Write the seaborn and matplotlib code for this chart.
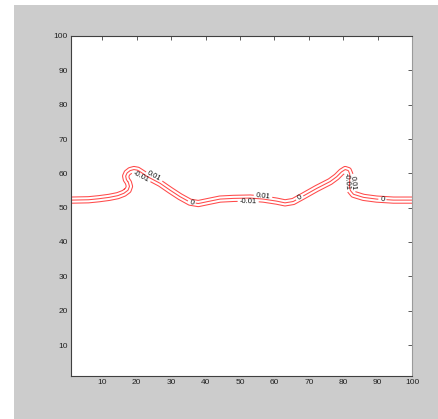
import numpy as np
import matplotlib
matplotlib.use("Agg")
import matplotlib.pyplot as plt
from matplotlib.path import Path
from matplotlib.patches import Rectangle
import seaborn as sns

# Zero level of the interface (x, y) traced along the front
front_x = [1, 6, 9, 12, 14.5, 16.3, 17.5, 17.9, 17.6, 17.0, 16.8, 17.2, 18.1,
           19.2, 20.3, 21.4, 23.2, 26.8, 29.7, 32.6, 35.5, 37.9, 40.3, 44.2,
           48.1, 53.0, 56.8, 60.7, 63.1, 65.5, 68.4, 72.3, 76.2, 78.1, 79.5,
           80.6, 81.5, 81.9, 81.9, 81.8, 82.1, 83.0, 85.9, 89.7, 94.6, 100]
front_y = [52.2, 52.3, 52.6, 53.0, 53.5, 54.2, 55.1, 56.2, 57.3, 58.2, 59.2,
           60.1, 60.8, 61.1, 60.9, 60.2, 59.0, 57.1, 55.1, 53.2, 51.6, 51.2,
           51.7, 52.5, 52.7, 52.8, 52.5, 51.9, 51.4, 51.8, 53.4, 55.6, 57.6,
           59.0, 60.4, 61.1, 60.8, 59.8, 58.0, 56.2, 55.0, 53.9, 53.0, 52.5,
           52.2, 52.2]

# contour levels of the level-set function and their printed labels
levels = [-0.01, 0.0, 0.01]
level_text = ["-0.01", "0", "0.01"]
level_step = 0.9          # distance (grid units) between neighbouring levels

# inline labels: level and approximate position
label_level = [-0.01, 0.01, 0.0, -0.01, 0.01, 0.0, -0.01, 0.01, 0.0]
label_x = [21.0, 25.0, 36.0, 52.4, 56.7, 67.6, 80.6, 83.3, 91.4]
label_y = [58.6, 58.9, 51.6, 51.7, 53.2, 52.4, 57.6, 57.1, 52.4]

xticks = list(range(10, 101, 10))
yticks = list(range(10, 101, 10))

# ---- level-set field: signed distance to the front ----
fx = np.asarray(front_x, float)
fy = np.asarray(front_y, float)
px = np.concatenate([[fx[0] - 10], fx, [fx[-1] + 10]])
py = np.concatenate([[fy[0]], fy, [fy[-1]]])

gx, gy = np.meshgrid(np.linspace(1, 100, 496), np.linspace(1, 100, 496))
pts = np.column_stack([gx.ravel(), gy.ravel()])

dist = np.full(len(pts), np.inf)
for i in range(len(px) - 1):
    a = np.array([px[i], py[i]])
    b = np.array([px[i + 1], py[i + 1]])
    ab = b - a
    t = np.clip(((pts - a) @ ab) / (ab @ ab), 0.0, 1.0)
    proj = a + t[:, None] * ab
    dist = np.minimum(dist, np.hypot(*(pts - proj).T))

below = Path(np.column_stack([
    np.concatenate([px, [px[-1], px[0]]]),
    np.concatenate([py, [-50, -50]]),
])).contains_points(pts)
phi = np.where(below, -dist, dist).reshape(gx.shape) * (0.01 / level_step)

# ---- figure ----
sns.set_style("white", {
    "axes.edgecolor": "#404040",
    "xtick.color": "#404040",
    "ytick.color": "#404040",
})
plt.rcParams["font.family"] = ["Liberation Sans", "DejaVu Sans"]

fig = plt.figure(figsize=(4.39, 4.19), dpi=100, facecolor="white")
fig.patches.append(Rectangle((14 / 439, 0), 425 / 439, 414 / 419,
                             transform=fig.transFigure, facecolor="#cccccc",
                             edgecolor="none", zorder=-10))
ax = fig.add_axes([71.3 / 439, 43.1 / 419, 340.7 / 439, 339.9 / 419])
ax.set_facecolor("white")

# one contour set per level so each label lands on its own line
for lev, txt in zip(levels, level_text):
    cs = ax.contour(gx, gy, phi, levels=[lev], colors="#ff4a4a",
                    linewidths=0.75, linestyles="solid")
    manual = [(x, y) for l, x, y in zip(label_level, label_x, label_y) if l == lev]
    cs.clabel(manual=manual, fmt={lev: txt}, inline=True,
              inline_spacing=2, fontsize=5.5, colors="#111111")

ax.set_xlim(1, 100)
ax.set_ylim(1, 100)
ax.set_xticks(xticks)
ax.set_yticks(yticks)
ax.tick_params(direction="in", length=3, width=0.6, labelsize=6,
               top=True, right=True, pad=2.5, labelcolor="#222222")
for side, sp in ax.spines.items():
    sp.set_visible(True)
    sp.set_linewidth(0.8)
ax.spines["right"].set_color("#9a9a9a")

fig.savefig("out.png", dpi=100, facecolor=fig.get_facecolor())
